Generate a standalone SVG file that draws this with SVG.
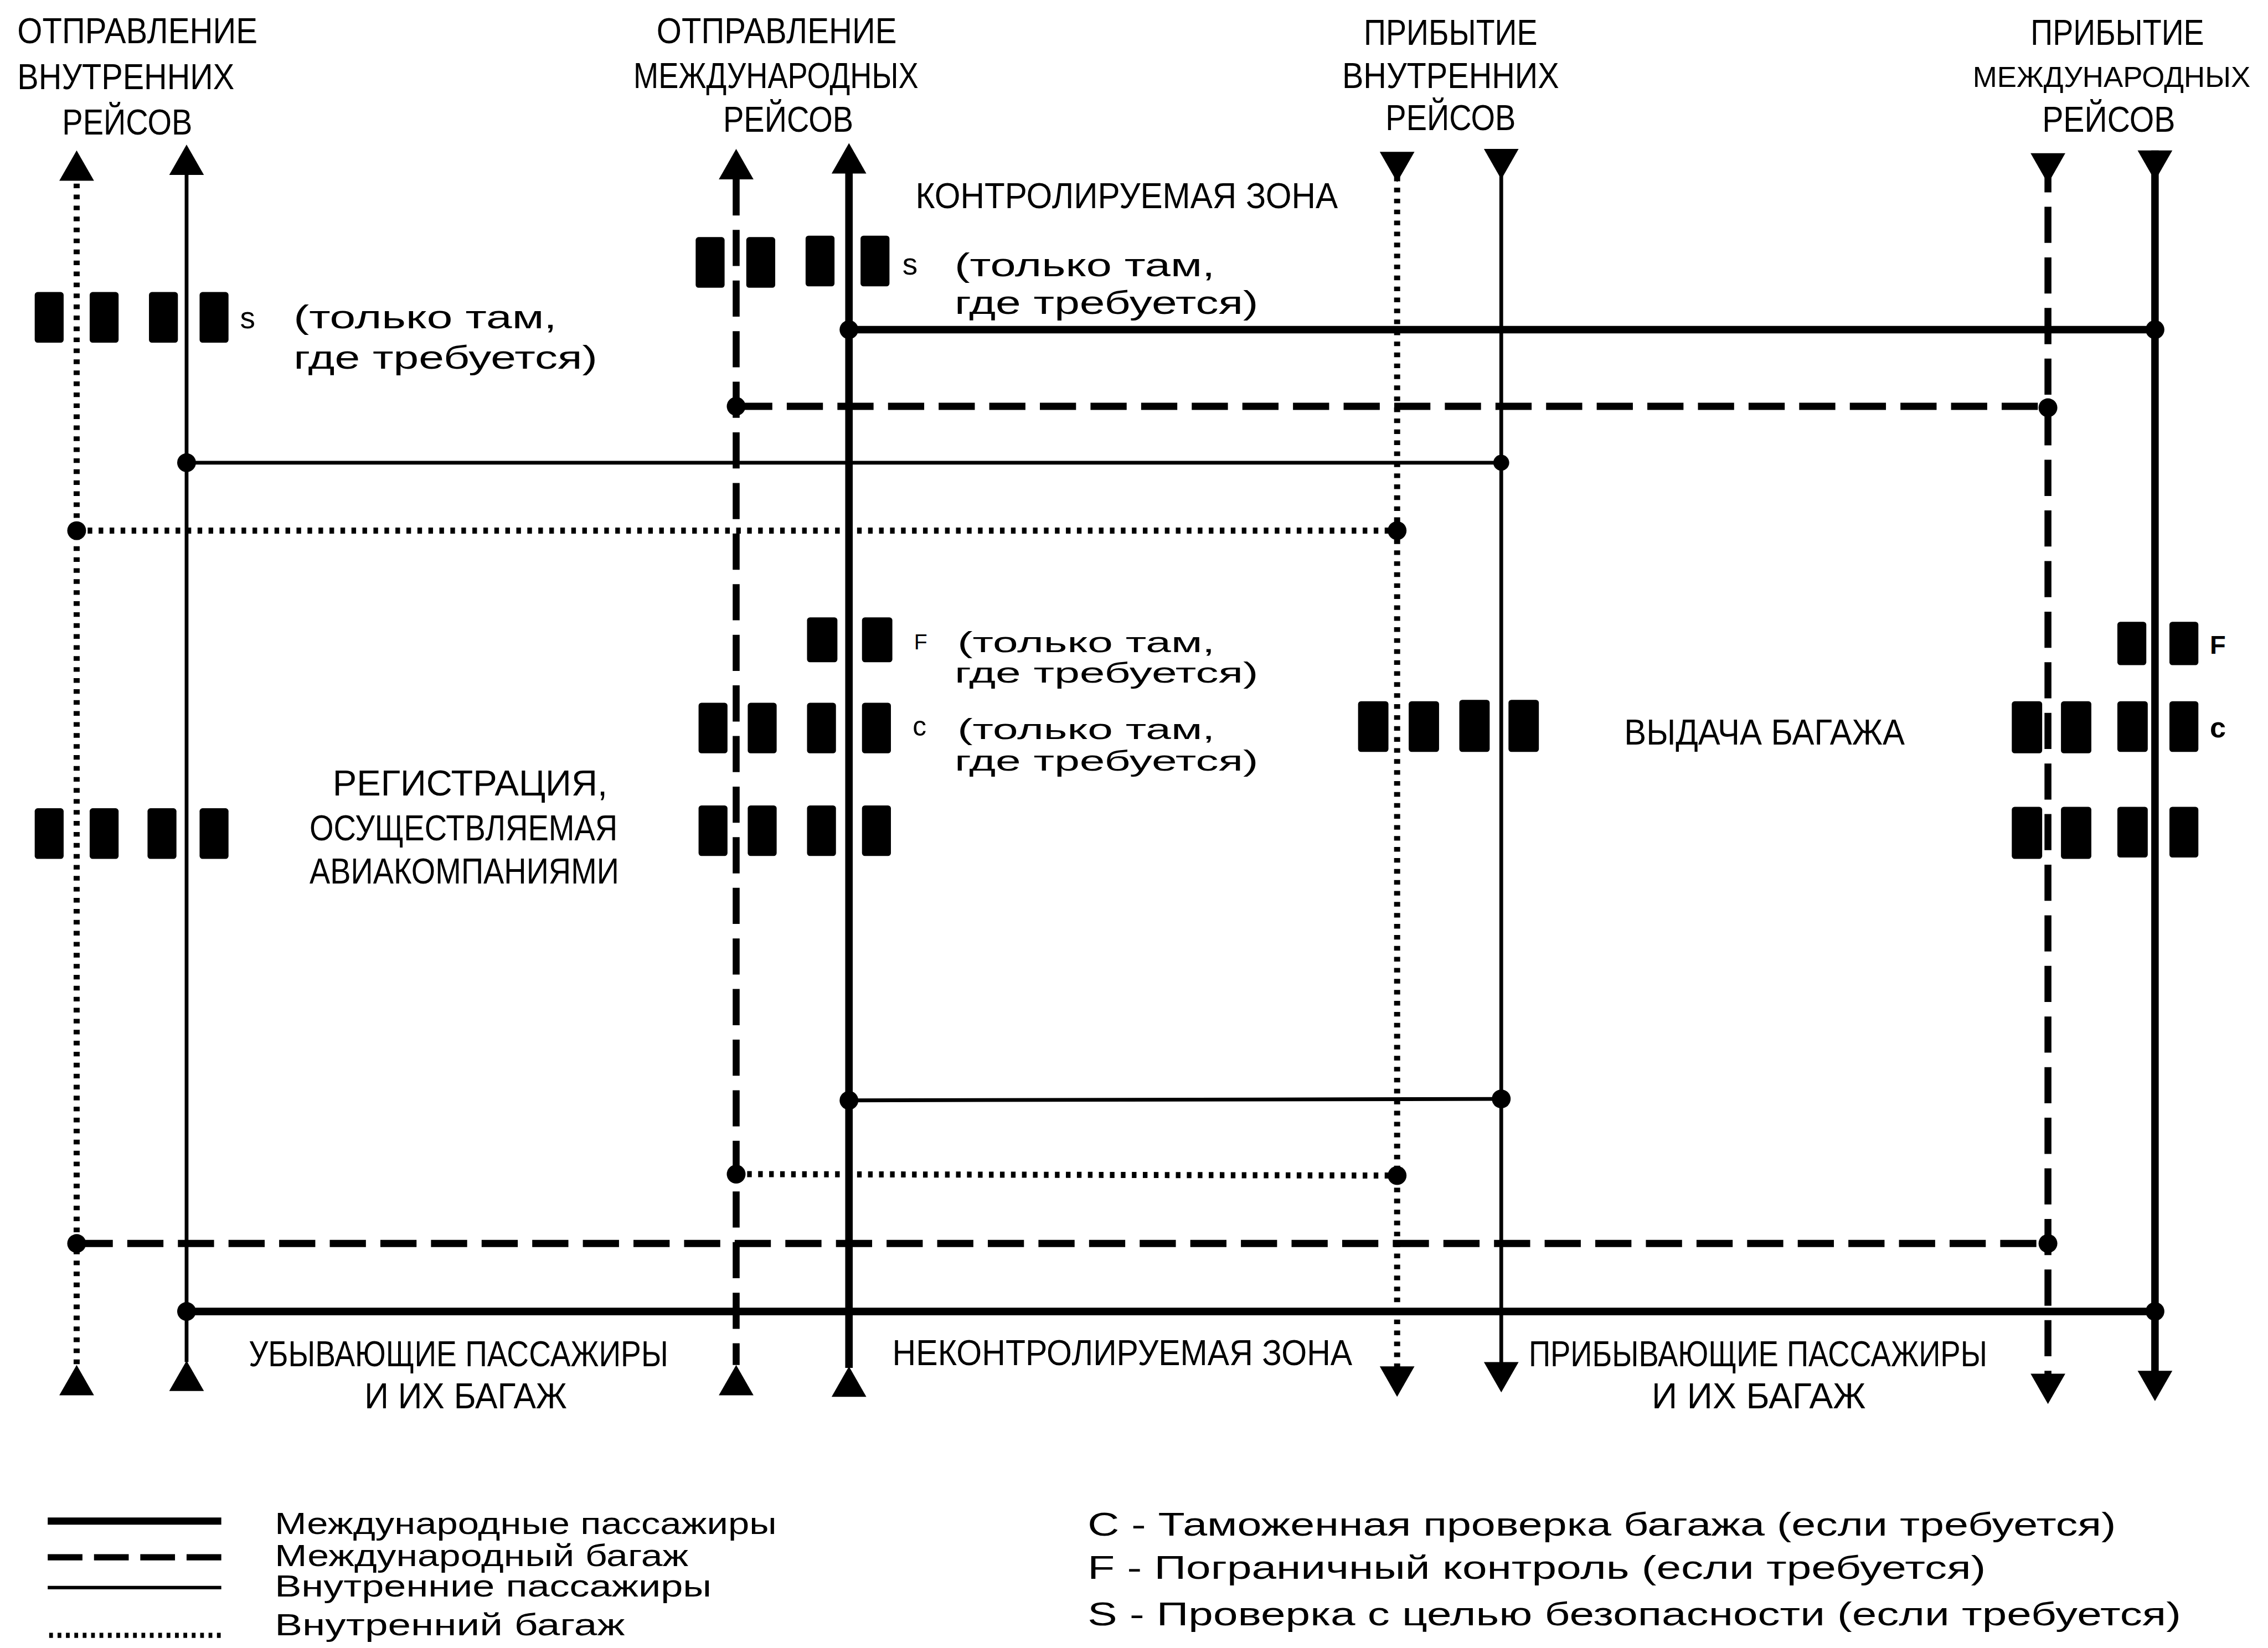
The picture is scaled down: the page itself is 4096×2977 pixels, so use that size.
<svg xmlns="http://www.w3.org/2000/svg" xmlns:xlink="http://www.w3.org/1999/xlink" width="4096" height="2977" viewBox="0 0 4096 2977">
<style>
.t{font-family:"Liberation Sans","DejaVu Sans",sans-serif;fill:#000}
.h{font-size:25px}
.m{font-size:23px}
.ms{font-size:20px}
.lg{font-size:21px}
.lr{font-size:23px}
.ln{stroke:#000;fill:none}
.thick{stroke-width:5.2}
.thin{stroke-width:2.6}
.dashv{stroke-width:4.8;stroke-dasharray:25 10}
.dashh{stroke-width:5;stroke-dasharray:25 10}
.dot{stroke-width:4.2;stroke-dasharray:3.2 4.4}
.desk{fill:#000}
.jn{fill:#000}
</style>
<defs>
<path id="au" d="M0,0 L12,21 L-12,21 Z" fill="#000"/>
<path id="ad" d="M0,0 L12,-21 L-12,-21 Z" fill="#000"/>
<rect id="dk" x="0" y="0" width="20" height="35" rx="2" fill="#000"/>
</defs>
<rect width="4096" height="2977" fill="#fff"/>
<g transform="scale(2.612)">
<g id="connectors">
<line class="ln dot" x1="53" y1="127" x2="53" y2="944"/>
<line class="ln thin" x1="129" y1="120" x2="129" y2="942"/>
<line class="ln dashv" x1="509" y1="124" x2="509" y2="944"/>
<line class="ln thick" x1="587" y1="118" x2="587" y2="946"/>
<line class="ln dot" x1="966" y1="107" x2="966" y2="946"/>
<line class="ln thin" x1="1038" y1="104" x2="1038" y2="944"/>
<line class="ln dashv" x1="1416" y1="108" x2="1416" y2="952"/>
<line class="ln thick" x1="1490" y1="104" x2="1490" y2="950"/>
<use xlink:href="#au" x="53" y="104"/>
<use xlink:href="#au" x="129" y="100"/>
<use xlink:href="#au" x="509" y="103"/>
<use xlink:href="#au" x="587" y="99"/>
<use xlink:href="#ad" x="966" y="126"/>
<use xlink:href="#ad" x="1038" y="124"/>
<use xlink:href="#ad" x="1416" y="127"/>
<use xlink:href="#ad" x="1490" y="125"/>
<use xlink:href="#au" x="53" y="944"/>
<use xlink:href="#au" x="129" y="941"/>
<use xlink:href="#au" x="509" y="944"/>
<use xlink:href="#au" x="587" y="945"/>
<use xlink:href="#ad" x="966" y="966"/>
<use xlink:href="#ad" x="1038" y="963"/>
<use xlink:href="#ad" x="1416" y="971"/>
<use xlink:href="#ad" x="1490" y="969"/>
<line class="ln thick" x1="587" y1="228" x2="1490" y2="228"/>
<line class="ln dashh" x1="509" y1="281" x2="1416" y2="281"/>
<line class="ln thin" x1="129" y1="320" x2="1038" y2="320"/>
<line class="ln dot" x1="53" y1="367" x2="966" y2="367"/>
<line class="ln thin" x1="587" y1="761" x2="1038" y2="760"/>
<line class="ln dot" x1="509" y1="812" x2="966" y2="813"/>
<line class="ln dashh" x1="53" y1="860" x2="1416" y2="860"/>
<line class="ln thick" x1="129" y1="907" x2="1490" y2="907"/>
<circle class="jn" cx="587" cy="228" r="6.5"/>
<circle class="jn" cx="1490" cy="228" r="6.5"/>
<circle class="jn" cx="509" cy="281" r="6.5"/>
<circle class="jn" cx="1416" cy="282" r="6.5"/>
<circle class="jn" cx="129" cy="320" r="6.5"/>
<circle class="jn" cx="1038" cy="320" r="5.5"/>
<circle class="jn" cx="53" cy="367" r="6.5"/>
<circle class="jn" cx="966" cy="367" r="6.5"/>
<circle class="jn" cx="587" cy="761" r="6.5"/>
<circle class="jn" cx="1038" cy="760" r="6.5"/>
<circle class="jn" cx="509" cy="812" r="6.5"/>
<circle class="jn" cx="966" cy="813" r="6.5"/>
<circle class="jn" cx="53" cy="860" r="6.5"/>
<circle class="jn" cx="1416" cy="860" r="6.5"/>
<circle class="jn" cx="129" cy="907" r="6.5"/>
<circle class="jn" cx="1490" cy="907" r="6.5"/>
</g>
<g id="hdr-dep-dom">
<text class="t h" x="12" y="30" textLength="166" lengthAdjust="spacingAndGlyphs">ОТПРАВЛЕНИЕ</text>
<text class="t h" x="12" y="61.5" textLength="150" lengthAdjust="spacingAndGlyphs">ВНУТРЕННИХ</text>
<text class="t h" x="43" y="93" textLength="90" lengthAdjust="spacingAndGlyphs">РЕЙСОВ</text>
</g>
<g id="hdr-dep-intl">
<text class="t h" x="454" y="30" textLength="166" lengthAdjust="spacingAndGlyphs">ОТПРАВЛЕНИЕ</text>
<text class="t h" x="438" y="61" textLength="197" lengthAdjust="spacingAndGlyphs">МЕЖДУНАРОДНЫХ</text>
<text class="t h" x="500" y="91" textLength="90" lengthAdjust="spacingAndGlyphs">РЕЙСОВ</text>
</g>
<g id="hdr-arr-dom">
<text class="t h" x="943" y="31" textLength="120" lengthAdjust="spacingAndGlyphs">ПРИБЫТИЕ</text>
<text class="t h" x="928" y="61" textLength="150" lengthAdjust="spacingAndGlyphs">ВНУТРЕННИХ</text>
<text class="t h" x="958" y="90" textLength="90" lengthAdjust="spacingAndGlyphs">РЕЙСОВ</text>
</g>
<g id="hdr-arr-intl">
<text class="t h" x="1404" y="31" textLength="120" lengthAdjust="spacingAndGlyphs">ПРИБЫТИЕ</text>
<text class="t" style="font-size:20px" x="1364" y="60" textLength="192" lengthAdjust="spacingAndGlyphs">МЕЖДУНАРОДНЫХ</text>
<text class="t h" x="1412" y="91" textLength="92" lengthAdjust="spacingAndGlyphs">РЕЙСОВ</text>
</g>
<g id="zone-controlled">
<text class="t h" x="633" y="144" textLength="292" lengthAdjust="spacingAndGlyphs">КОНТРОЛИРУЕМАЯ ЗОНА</text>
</g>
<g id="desks-s-left">
<use xlink:href="#dk" x="24" y="202"/><use xlink:href="#dk" x="62" y="202"/><use xlink:href="#dk" x="103" y="202"/><use xlink:href="#dk" x="138" y="202"/>
<text class="t" style="font-size:21px" x="166" y="227">s</text>
<text class="t m" x="203" y="227" textLength="182" lengthAdjust="spacingAndGlyphs">(только там,</text>
<text class="t m" x="203" y="255" textLength="210" lengthAdjust="spacingAndGlyphs">где требуется)</text>
</g>
<g id="desks-s-mid">
<use xlink:href="#dk" x="481" y="164"/><use xlink:href="#dk" x="516" y="164"/><use xlink:href="#dk" x="557" y="163"/><use xlink:href="#dk" x="595" y="163"/>
<text class="t" style="font-size:21px" x="624" y="190">s</text>
<text class="t m" x="660" y="191" textLength="180" lengthAdjust="spacingAndGlyphs">(только там,</text>
<text class="t m" x="660" y="217" textLength="210" lengthAdjust="spacingAndGlyphs">где требуется)</text>
</g>
<g id="desks-f-mid">
<rect class="desk" x="558" y="427" width="21" height="31" rx="2"/><rect class="desk" x="596" y="427" width="21" height="31" rx="2"/>
<text class="t" style="font-size:15px" x="632" y="449">F</text>
<text class="t ms" x="662" y="451" textLength="178" lengthAdjust="spacingAndGlyphs">(только там,</text>
<text class="t ms" x="660" y="472" textLength="210" lengthAdjust="spacingAndGlyphs">где требуется)</text>
</g>
<g id="desks-c-mid">
<use xlink:href="#dk" x="483" y="486"/><use xlink:href="#dk" x="517" y="486"/><use xlink:href="#dk" x="558" y="486"/><use xlink:href="#dk" x="596" y="486"/>
<text class="t" style="font-size:19px" x="631" y="509">c</text>
<text class="t ms" x="662" y="511" textLength="178" lengthAdjust="spacingAndGlyphs">(только там,</text>
<text class="t ms" x="660" y="533" textLength="210" lengthAdjust="spacingAndGlyphs">где требуется)</text>
</g>
<g id="desks-reg-left">
<use xlink:href="#dk" x="24" y="559"/><use xlink:href="#dk" x="62" y="559"/><use xlink:href="#dk" x="102" y="559"/><use xlink:href="#dk" x="138" y="559"/>
</g>
<g id="label-registration">
<text class="t h" x="230" y="550" textLength="190" lengthAdjust="spacingAndGlyphs">РЕГИСТРАЦИЯ,</text>
<text class="t h" x="214" y="581" textLength="213" lengthAdjust="spacingAndGlyphs">ОСУЩЕСТВЛЯЕМАЯ</text>
<text class="t h" x="214" y="611" textLength="214" lengthAdjust="spacingAndGlyphs">АВИАКОМПАНИЯМИ</text>
</g>
<g id="desks-reg-mid">
<use xlink:href="#dk" x="483" y="557"/><use xlink:href="#dk" x="517" y="557"/><use xlink:href="#dk" x="558" y="557"/><use xlink:href="#dk" x="596" y="557"/>
</g>
<g id="desks-arr-dom">
<rect class="desk" x="939" y="485" width="21" height="35" rx="2"/><rect class="desk" x="974" y="485" width="21" height="35" rx="2"/><rect class="desk" x="1009" y="484" width="21" height="36" rx="2"/><rect class="desk" x="1043" y="484" width="21" height="36" rx="2"/>
</g>
<g id="label-baggage-claim">
<text class="t h" x="1123" y="515" textLength="194" lengthAdjust="spacingAndGlyphs">ВЫДАЧА БАГАЖА</text>
</g>
<g id="desks-f-right">
<rect class="desk" x="1464" y="430" width="20" height="30" rx="2"/><rect class="desk" x="1500" y="430" width="20" height="30" rx="2"/>
<text class="t" style="font-size:18px;font-weight:bold" x="1528" y="452">F</text>
</g>
<g id="desks-c-right">
<rect class="desk" x="1391" y="485" width="21" height="36" rx="2"/><rect class="desk" x="1425" y="485" width="21" height="36" rx="2"/><rect class="desk" x="1464" y="485" width="21" height="35" rx="2"/><rect class="desk" x="1500" y="485" width="20" height="35" rx="2"/>
<text class="t" style="font-size:20px;font-weight:bold" x="1528" y="510">c</text>
</g>
<g id="desks-right-bottom">
<rect class="desk" x="1391" y="558" width="21" height="36" rx="2"/><rect class="desk" x="1425" y="558" width="21" height="36" rx="2"/><rect class="desk" x="1464" y="558" width="21" height="35" rx="2"/><rect class="desk" x="1500" y="558" width="20" height="35" rx="2"/>
</g>
<g id="label-departing">
<text class="t h" x="172" y="945" textLength="290" lengthAdjust="spacingAndGlyphs">УБЫВАЮЩИЕ ПАССАЖИРЫ</text>
<text class="t h" x="252" y="974" textLength="140" lengthAdjust="spacingAndGlyphs">И ИХ БАГАЖ</text>
</g>
<g id="zone-uncontrolled">
<text class="t h" x="617" y="944" textLength="318" lengthAdjust="spacingAndGlyphs">НЕКОНТРОЛИРУЕМАЯ ЗОНА</text>
</g>
<g id="label-arriving">
<text class="t h" x="1057" y="945" textLength="317" lengthAdjust="spacingAndGlyphs">ПРИБЫВАЮЩИЕ ПАССАЖИРЫ</text>
<text class="t h" x="1142" y="974" textLength="148" lengthAdjust="spacingAndGlyphs">И ИХ БАГАЖ</text>
</g>
<g id="legend">
<line class="ln" style="stroke-width:5" x1="33" y1="1052" x2="153" y2="1052"/>
<line class="ln" style="stroke-width:4.4;stroke-dasharray:24 8" x1="33" y1="1077" x2="153" y2="1077"/>
<line class="ln" style="stroke-width:2.4" x1="33" y1="1098" x2="153" y2="1098"/>
<line class="ln" style="stroke-width:3.6;stroke-dasharray:2.6 3.2" x1="34" y1="1131" x2="153" y2="1131"/>
<text class="t lg" x="190" y="1061" textLength="347" lengthAdjust="spacingAndGlyphs">Международные пассажиры</text>
<text class="t lg" x="190" y="1083" textLength="286" lengthAdjust="spacingAndGlyphs">Международный багаж</text>
<text class="t lg" x="190" y="1104" textLength="302" lengthAdjust="spacingAndGlyphs">Внутренние пассажиры</text>
<text class="t lg" x="190" y="1131" textLength="242" lengthAdjust="spacingAndGlyphs">Внутренний багаж</text>
<text class="t lr" x="752" y="1062" textLength="711" lengthAdjust="spacingAndGlyphs">C - Таможенная проверка багажа (если требуется)</text>
<text class="t lr" x="752" y="1092" textLength="621" lengthAdjust="spacingAndGlyphs">F - Пограничный контроль (если требуется)</text>
<text class="t lr" x="752" y="1124" textLength="756" lengthAdjust="spacingAndGlyphs">S - Проверка с целью безопасности (если требуется)</text>
</g>
</g>
</svg>
